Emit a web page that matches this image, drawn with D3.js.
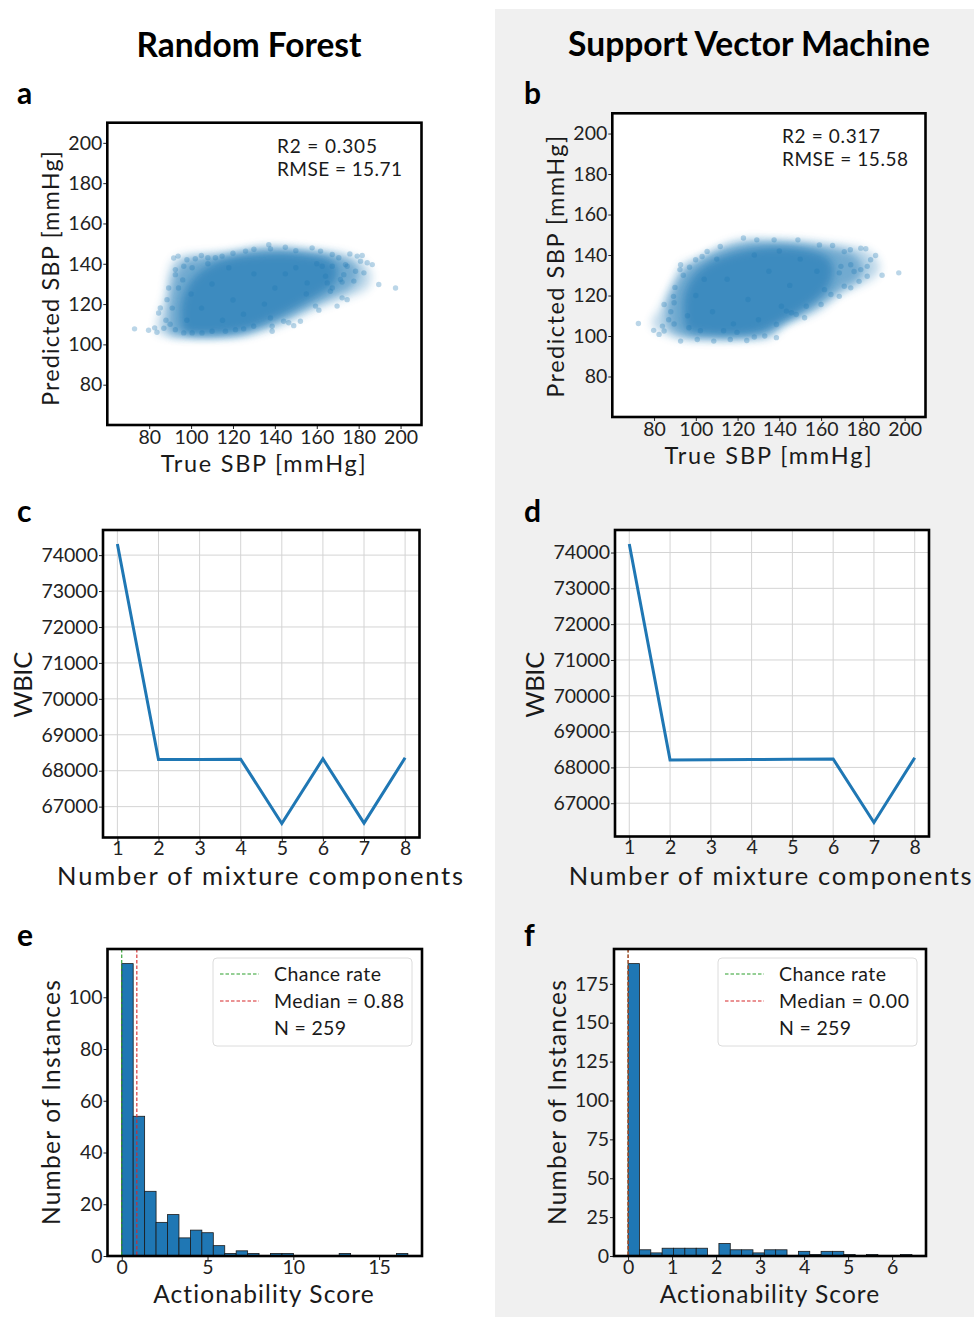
<!DOCTYPE html>
<html><head><meta charset="utf-8">
<script src="https://cdn.jsdelivr.net/npm/d3@7"></script>
<style>body{margin:0;background:#fff;} svg{display:block;}</style>
</head><body>
<svg id="fig" width="974" height="1317"></svg>
<script>
// ---------------- DATA ----------------
const modelTitles = ["Random Forest", "Support Vector Machine"];
const panelLetters = ["a", "b", "c", "d", "e", "f"];

const sbpTicks = [80, 100, 120, 140, 160, 180, 200];
const sbpDomain = [60, 210];
const rfMetrics = ["R2 = 0.305", "RMSE = 15.71"];
const svmMetrics = ["R2 = 0.317", "RMSE = 15.58"];

// outlines of the point cloud density (True SBP, Predicted SBP)
const rfCloudOuter = [[84,106],[92,104],[100,103.5],[112,103.5],[124,104],[134,106.5],[144,110],[152,114],[160,118],[168,121],[176,124],[184,128],[186,134],[183,140],[176,144],[166,146],[154,147.5],[142,148.5],[132,148.5],[122,146.5],[110,145],[98,144.5],[92,142],[89,134],[88,126],[86,118],[84,112]];
const rfCloudMid = [[90,105],[100,104],[112,104],[124,105],[134,108],[146,113],[156,118],[166,123],[176,128],[180,134],[178,140],[170,144],[158,146],[144,147.5],[130,147],[118,145],[106,143.5],[97,141],[92,134],[90,124],[89,114]];
const rfCloudCore = [[97,106],[106,104.5],[116,105],[126,107],[136,111],[148,117],[160,124],[168,130],[170,137],[166,142],[156,144.5],[144,145.5],[132,145],[120,143.5],[110,140],[102,134],[97,126],[95,116]];
const rfPoints = [[73.0,107.7],[79.7,107.0],[82.6,108.2],[83.7,106.0],[84.5,115.6],[85.3,118.1],[88.5,122.2],[89.3,128.0],[91.7,142.9],[93.8,143.8],[92.5,137.1],[92.5,134.6],[104.9,144.1],[111.6,143.0],[114.8,143.8],[96.5,138.8],[100.5,138.0],
[137.1,149.5],[137.9,147.4],[157.8,147.9],[161.8,146.3],[167.4,144.6],[170.5,143.0],[175.8,144.9],[179.3,143.8],[180.9,141.3],[181.7,144.1],[184.1,140.5],[186.5,139.6],[174.5,138.8],[173.7,139.6],[178.5,136.3],[182.5,135.5],[177.7,131.4],[172.1,130.9],[167.4,128.0],[189.6,129.7],[197.6,128.0],[172.1,123.1],[174.5,122.2],[169.7,119.0],[159.4,119.0],[161.0,117.0],[152.2,111.5],[149.0,109.3],[144.2,111.5],[146.6,110.7],[138.7,109.0],[138.7,106.5],[137.9,113.1],[155.4,130.5],[164.2,133.8],[165.0,130.5],[166.5,126.4],[171.3,132.2],[172.9,134.6],[167.4,138.8],[162.6,138.8],
[92.5,107.3],[96.5,105.7],[100.5,105.7],[105.2,105.7],[110.0,106.5],[116.4,106.5],[121.2,107.3],[125.1,107.7],[129.9,109.0],
[126,146.3],[120,145.2],[130,147.2],[145,148.2],[150,146.5],[100,125],[105,118],[110,130],[120,122],[130,135],[140,128],[150,138],[155,125],[115,112],[125,115],[135,120],[145,135],[160,140],[98,112],[108,140],[118,138],
[90,110],[91,118],[94,128],[96,132],[88,112],[87,108],[98,142],[102,142.5],[108,143]];

const svmCloudOuter = [[80,104],[86,101],[94,98.5],[104,98],[116,98],[126,98.5],[136,99.5],[142,105],[148,108],[156,111],[162,115],[168,120],[176,124],[184,128],[188,133],[186,139],[180,143],[170,145],[160,146],[150,147],[138,147.5],[126,148],[116,146],[108,142],[100,138],[93,135],[90,128],[86,120],[82,112],[79,107]];
const svmCloudMid = [[88,103],[96,99.5],[108,99],[122,99],[134,100.5],[142,106],[152,111],[162,117],[170,123],[178,128],[180,134],[176,140],[166,143.5],[152,145.5],[138,146.5],[124,146],[112,143],[102,138],[94,132],[89,124],[86,114]];
const svmCloudCore = [[96,103],[106,100.5],[118,100],[130,101.5],[140,106],[150,112],[158,118],[164,125],[166,133],[163,139],[154,142.5],[142,144],[130,143.5],[118,141],[108,137],[100,131],[95,122],[94,112]];
const svmPoints = [[72.5,106.2],[79.8,102.8],[82.4,100.8],[84.8,102.5],[84.0,104.9],[84.8,115.6],[89.3,119.6],[89.6,116.4],[92.7,135.2],[92.4,132.8],[99.9,137.7],[103.0,139.3],[105.4,141.8],[111.7,144.2],[122.8,148.4],[129.2,147.5],[92.7,97.5],[100.7,98.3],[108.6,97.5],[116.5,98.3],[124.4,97.8],[113.3,102.6],[119.7,101.8],[96.7,104.1],[102.2,102.6],[89.6,105.9],
[137.5,147.5],[148.9,147.5],[159.2,145.0],[165.5,144.7],[171.1,141.7],[174.0,142.6],[179.0,143.4],[181.4,143.1],[186.1,139.8],[189.2,130.0],[197.2,131.2],[182.1,129.5],[178.2,127.0],[174.2,123.8],[171.1,124.6],[168.7,119.6],[164.7,120.5],[161.6,122.9],[160.0,115.6],[152.9,114.7],[148.1,110.6],[152.1,109.0],[145.8,111.5],[138.6,105.7],[138.6,99.2],[141.0,114.7],[143.4,112.3],[175.8,131.9],[179.0,132.8],[182.1,134.4],[183.7,137.7],[174.2,135.2],[169.5,134.4],[168.7,131.2],
[100,120],[108,112],[115,128],[125,118],[135,132],[145,125],[150,138],[130,108],[118,106],[104,128],[140,142],[158,132],[96,110],[110,138],[128,140],
[87,108],[88,112],[90,124],[94,130],[97,134],[133,100],[128,99.5]];

const components = [1, 2, 3, 4, 5, 6, 7, 8];
const rfWBIC = [74310, 68310, 68310, 68320, 66530, 68330, 66540, 68360];
const svmWBIC = [74240, 68210, 68215, 68220, 68225, 68235, 66460, 68270];
const wbicTicks = [67000, 68000, 69000, 70000, 71000, 72000, 73000, 74000];

const rfHistCounts = [113,54,25,13,16,7,10,9,4,1,2,1,0,1,1,0,0,0,0,1,0,0,0,0,1];
const rfBinWidth = 0.667;
const rfXTicks = [0, 5, 10, 15];
const rfYTicks = [0, 20, 40, 60, 80, 100];
const rfMedian = 0.88;
const svmHistCounts = [188,4,2,5,5,5,5,0,8,4,4,2,4,4,0,3,1,3,3,1,0,1,0,0,1];
const svmBinWidth = 0.258;
const svmXTicks = [0, 1, 2, 3, 4, 5, 6];
const svmYTicks = [0, 25, 50, 75, 100, 125, 150, 175];
const svmMedian = 0.00;
const chanceRate = 0;
const nInstances = 259;

const axisLabels = {
  sbpX: "True SBP [mmHg]", sbpY: "Predicted SBP [mmHg]",
  wbicX: "Number of mixture components", wbicY: "WBIC",
  histX: "Actionability Score", histY: "Number of Instances"
};

// ---------------- DRAWING ----------------
const svg = d3.select("#fig");
const FONT = "Lato, 'Noto Sans', 'Open Sans', sans-serif";
const TFONT = "Lato, 'Open Sans', sans-serif";
const BLUE = "#1f77b4";
const TICK_FS = 19.5;

const defs = svg.append("defs");
[["blurOuter", 5], ["blurMid", 4.5], ["blurCore", 4]].forEach(([id, s]) => {
  defs.append("filter").attr("id", id).attr("x", "-30%").attr("y", "-30%")
    .attr("width", "160%").attr("height", "160%")
    .append("feGaussianBlur").attr("stdDeviation", s);
});

svg.append("rect").attr("x", 495).attr("y", 9).attr("width", 479).attr("height", 1308).attr("fill", "#f0f0f0");

function txt(parent, str, x, y, size, o = {}) {
  const t = parent.append("text").attr("x", x).attr("y", y)
    .attr("font-family", o.family || FONT).attr("font-size", size)
    .attr("font-weight", o.weight || 400).attr("fill", o.fill || "#1a1a1a")
    .attr("text-anchor", o.anchor || "start").text(str);
  if (o.rotate) t.attr("transform", `rotate(-90,${x},${y})`).attr("dominant-baseline", "central");
  if (o.width) {
    const w = t.node().getComputedTextLength();
    if (o.fit) t.attr("font-size", size * o.width / w);
    else t.attr("letter-spacing", ((o.width - w) / Math.max(1, str.length - 1)).toFixed(2));
  }
  return t;
}

function styleAxis(g) {
  g.select(".domain").remove();
  g.selectAll(".tick line").attr("stroke", "#222").attr("stroke-width", 1);
  g.selectAll(".tick text").attr("font-family", FONT).attr("font-size", TICK_FS).attr("fill", "#222");
}

function frame(g, b) {
  g.append("rect").attr("x", b.x0).attr("y", b.y0).attr("width", b.x1 - b.x0).attr("height", b.y1 - b.y0)
    .attr("fill", "none").attr("stroke", "#000").attr("stroke-width", 2.6);
}

// Titles and letters
txt(svg, modelTitles[0], 249, 57, 30, {family: TFONT, weight: 700, anchor: "middle", width: 225, fit: true, fill: "#000"});
txt(svg, modelTitles[1], 749, 56, 30, {family: TFONT, weight: 700, anchor: "middle", width: 362, fit: true, fill: "#000"});
const letterPos = [[17,104],[524,104],[17,522],[524,522],[17,946],[524,946]];
panelLetters.forEach((l, i) => txt(svg, l, letterPos[i][0], letterPos[i][1], 30, {family: TFONT, weight: 700, fill: "#000"}));

// ---- scatter panels ----
function scatterPanel(b, outer, mid, core, pts, metrics, mPos, mW, lab) {
  const g = svg.append("g");
  const x = d3.scaleLinear().domain(sbpDomain).range([b.x0, b.x1]);
  const y = d3.scaleLinear().domain(sbpDomain).range([b.y1, b.y0]);
  g.append("rect").attr("x", b.x0).attr("y", b.y0).attr("width", b.x1 - b.x0).attr("height", b.y1 - b.y0).attr("fill", "#fff");
  const line = d3.line().curve(d3.curveCatmullRomClosed).x(d => x(d[0])).y(d => y(d[1]));
  g.append("path").attr("d", line(outer)).attr("fill", BLUE).attr("opacity", 0.3).attr("filter", "url(#blurOuter)");
  g.append("path").attr("d", line(mid)).attr("fill", BLUE).attr("opacity", 0.45).attr("filter", "url(#blurMid)");
  g.append("path").attr("d", line(core)).attr("fill", BLUE).attr("opacity", 0.6).attr("filter", "url(#blurCore)");
  g.selectAll("circle.p").data(pts).join("circle").attr("class", "p")
    .attr("cx", d => x(d[0])).attr("cy", d => y(d[1])).attr("r", 2.7)
    .attr("fill", BLUE).attr("opacity", 0.3);
  const ax = g.append("g").attr("transform", `translate(0,${b.y1})`)
    .call(d3.axisBottom(x).tickValues(sbpTicks).tickSize(4).tickPadding(1));
  styleAxis(ax);
  const ay = g.append("g").attr("transform", `translate(${b.x0},0)`)
    .call(d3.axisLeft(y).tickValues(sbpTicks).tickSize(4).tickPadding(1));
  styleAxis(ay);
  frame(g, b);
  metrics.forEach((m, i) => txt(g, m, mPos[0], mPos[1] + i * 23, 19, {width: mW[i]}));
  txt(g, axisLabels.sbpX, lab.xl[0], lab.xl[1], 23.5, {anchor: "middle", width: lab.xl[2]});
  txt(g, axisLabels.sbpY, lab.yl[0], lab.yl[1], 23.5, {anchor: "middle", rotate: true, width: lab.yl[2]});
}
scatterPanel({x0: 107.3, x1: 421.5, y0: 122.7, y1: 425}, rfCloudOuter, rfCloudMid, rfCloudCore, rfPoints, rfMetrics, [277, 153], [100, 125],
  {xl: [264, 471.5, 205], yl: [50, 278, 255]});
scatterPanel({x0: 612.3, x1: 925.5, y0: 113.3, y1: 417}, svmCloudOuter, svmCloudMid, svmCloudCore, svmPoints, svmMetrics, [782, 143], [98, 126],
  {xl: [769, 464, 207], yl: [555, 266, 262]});

// ---- WBIC panels ----
function wbicPanel(b, vals, lab) {
  const g = svg.append("g");
  const x = d3.scaleLinear().domain([0.65, 8.35]).range([b.x0, b.x1]);
  const [lo, hi] = d3.extent(vals);
  const pad = (hi - lo) * 0.05;
  const y = d3.scaleLinear().domain([lo - pad, hi + pad]).range([b.y1, b.y0]);
  g.append("rect").attr("x", b.x0).attr("y", b.y0).attr("width", b.x1 - b.x0).attr("height", b.y1 - b.y0).attr("fill", "#fff");
  g.selectAll("line.gx").data(components).join("line").attr("class", "gx")
    .attr("x1", d => x(d)).attr("x2", d => x(d)).attr("y1", b.y0).attr("y2", b.y1)
    .attr("stroke", "#d4d4d4").attr("stroke-width", 1);
  g.selectAll("line.gy").data(wbicTicks).join("line").attr("class", "gy")
    .attr("y1", d => y(d)).attr("y2", d => y(d)).attr("x1", b.x0).attr("x2", b.x1)
    .attr("stroke", "#d4d4d4").attr("stroke-width", 1);
  g.append("path").datum(vals.map((v, i) => [components[i], v]))
    .attr("d", d3.line().x(d => x(d[0])).y(d => y(d[1])))
    .attr("fill", "none").attr("stroke", BLUE).attr("stroke-width", 3).attr("stroke-linejoin", "miter");
  const ax = g.append("g").attr("transform", `translate(0,${b.y1})`)
    .call(d3.axisBottom(x).tickValues(components).tickSize(4).tickPadding(0));
  styleAxis(ax);
  const ay = g.append("g").attr("transform", `translate(${b.x0},0)`)
    .call(d3.axisLeft(y).tickValues(wbicTicks).tickFormat(d3.format("d")).tickSize(4).tickPadding(1));
  styleAxis(ay);
  frame(g, b);
  txt(g, axisLabels.wbicX, lab.xl[0], lab.xl[1], 25.5, {anchor: "middle", width: lab.xl[2]});
  txt(g, axisLabels.wbicY, lab.yl[0], lab.yl[1], 25.5, {anchor: "middle", rotate: true, width: lab.yl[2]});
}
wbicPanel({x0: 103, x1: 419.5, y0: 530, y1: 837.5}, rfWBIC, {xl: [261, 885, 406], yl: [22, 685, 66]});
wbicPanel({x0: 615, x1: 929, y0: 530, y1: 836.5}, svmWBIC, {xl: [771, 885, 403], yl: [534, 685, 66]});

// ---- histogram panels ----
function histPanel(b, counts, bw, xdom, xt, yt, median, lx, lab) {
  const g = svg.append("g");
  const x = d3.scaleLinear().domain(xdom).range([b.x0, b.x1]);
  const y = d3.scaleLinear().domain([0, d3.max(counts) * 1.05]).range([b.y1, b.y0]);
  g.append("rect").attr("x", b.x0).attr("y", b.y0).attr("width", b.x1 - b.x0).attr("height", b.y1 - b.y0).attr("fill", "#fff");
  g.selectAll("rect.bar").data(counts.map((c, i) => ({c, i})).filter(d => d.c > 0)).join("rect").attr("class", "bar")
    .attr("x", d => x(d.i * bw)).attr("width", d => x((d.i + 1) * bw) - x(d.i * bw))
    .attr("y", d => y(d.c)).attr("height", d => y(0) - y(d.c))
    .attr("fill", BLUE).attr("stroke", "#1a1a1a").attr("stroke-width", 0.8);
  [[chanceRate, "#2ca02c"], [median, "#d62728"]].forEach(([v, col]) => {
    g.append("line").attr("x1", x(v)).attr("x2", x(v)).attr("y1", b.y0).attr("y2", b.y1)
      .attr("stroke", col).attr("stroke-width", 1.1).attr("stroke-dasharray", "3.5,2");
  });
  const ax = g.append("g").attr("transform", `translate(0,${b.y1})`)
    .call(d3.axisBottom(x).tickValues(xt).tickSize(4).tickPadding(0));
  styleAxis(ax);
  const ay = g.append("g").attr("transform", `translate(${b.x0},0)`)
    .call(d3.axisLeft(y).tickValues(yt).tickSize(4).tickPadding(1));
  styleAxis(ay);
  frame(g, b);
  // legend
  g.append("rect").attr("x", lx).attr("y", 958).attr("width", 199).attr("height", 88).attr("rx", 4)
    .attr("fill", "#fff").attr("fill-opacity", 0.85).attr("stroke", "#dcdcdc").attr("stroke-width", 1);
  const entries = [["Chance rate", "#2ca02c", 107], [`Median = ${median.toFixed(2)}`, "#d62728", 130], [`N = ${nInstances}`, null, 72]];
  entries.forEach(([label, col, w], i) => {
    const yy = 974 + i * 27;
    if (col) g.append("line").attr("x1", lx + 7).attr("x2", lx + 46).attr("y1", yy).attr("y2", yy)
      .attr("stroke", col).attr("stroke-width", 1.1).attr("stroke-dasharray", "3.5,2");
    txt(g, label, lx + 61, yy + 7, 19.5, {width: w});
  });
  txt(g, axisLabels.histX, lab.xl[0], lab.xl[1], 24.5, {anchor: "middle", width: lab.xl[2]});
  txt(g, axisLabels.histY, lab.yl[0], lab.yl[1], 24.5, {anchor: "middle", rotate: true, width: lab.yl[2]});
}
histPanel({x0: 107.5, x1: 422, y0: 949, y1: 1256}, rfHistCounts, rfBinWidth, [-0.83, 17.5], rfXTicks, rfYTicks, rfMedian, 213,
  {xl: [264, 1302.5, 221], yl: [50, 1102, 245]});
histPanel({x0: 614, x1: 926, y0: 949, y1: 1256}, svmHistCounts, svmBinWidth, [-0.32, 6.77], svmXTicks, svmYTicks, svmMedian, 718,
  {xl: [770, 1302.5, 220], yl: [556, 1102, 245]});
</script>
</body></html>
